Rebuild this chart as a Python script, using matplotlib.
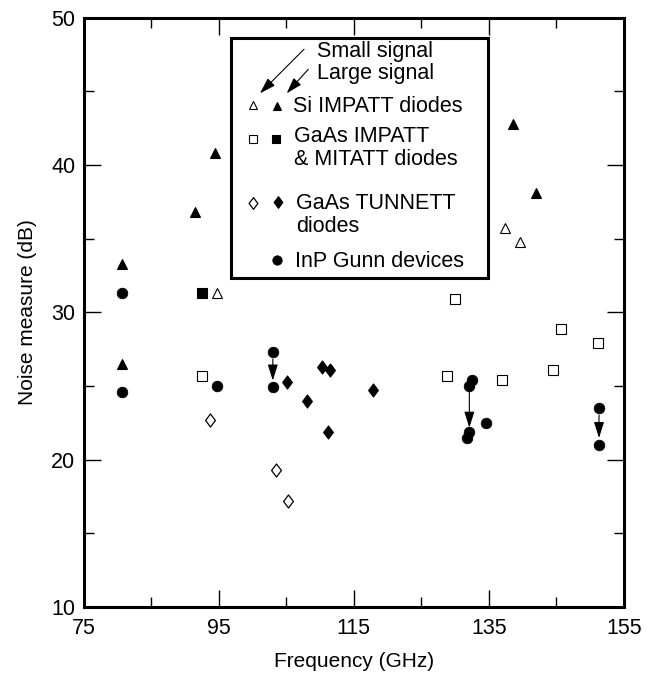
import matplotlib
matplotlib.use("Agg")
import matplotlib.pyplot as plt
from matplotlib.path import Path
from matplotlib.patches import Rectangle

plt.rcParams['font.family'] = ['Liberation Sans', 'DejaVu Sans']

# ---- data (frequency GHz, noise measure dB) ----
si_small_x = [94.7, 137.4, 139.6]
si_small_y = [31.3, 35.7, 34.8]
si_large_x = [80.7, 80.7, 91.5, 94.4, 138.6, 141.9]
si_large_y = [33.3, 26.5, 36.8, 40.8, 42.8, 38.1]
gaas_small_x = [92.5, 130.0, 128.8, 137.0, 144.5, 145.7, 151.1]
gaas_small_y = [25.7, 30.9, 25.7, 25.4, 26.1, 28.9, 27.9]
gaas_large_x = [92.5]
gaas_large_y = [31.3]
tun_small_x = [93.7, 103.4, 105.3]
tun_small_y = [22.7, 19.3, 17.2]
tun_large_x = [105.1, 108.1, 110.3, 111.4, 111.2, 117.8]
tun_large_y = [25.3, 24.0, 26.3, 26.1, 21.9, 24.7]
gunn_x = [80.6, 80.6, 94.7, 103.0, 103.0, 132.5, 132.0, 132.1, 131.7, 134.5, 151.3, 151.3]
gunn_y = [31.3, 24.6, 25.0, 27.3, 24.9, 25.4, 25.0, 21.9, 21.5, 22.5, 23.5, 21.0]
# arrows: (frequency, from dB, to dB)
arrow_x = [103.0, 132.1, 151.3]
arrow_from = [27.3, 25.2, 23.5]
arrow_to = [24.9, 21.7, 21.0]

x_ticks = [75, 95, 115, 135, 155]
y_ticks = [10, 20, 30, 40, 50]

W, H = 647, 675
fig = plt.figure(figsize=(W / 100, H / 100), dpi=100)
L, R, T, B = 83.7, 624.0, 17.7, 607.0
ax = fig.add_axes([L / W, 1 - B / H, (R - L) / W, (B - T) / H])

diamond = Path([(0, 1), (0.75, 0), (0, -1), (-0.75, 0), (0, 1)],
               [Path.MOVETO, Path.LINETO, Path.LINETO, Path.LINETO, Path.CLOSEPOLY])

ms_tri, ms_sq, ms_dia, ms_circ = 6.7, 6.5, 9.4, 7.7
ax.plot(si_small_x, si_small_y, ls='none', marker='^', ms=ms_tri, mfc='white', mec='black', mew=0.8)
ax.plot(si_large_x, si_large_y, ls='none', marker='^', ms=ms_tri, mfc='black', mec='black', mew=0.8)
ax.plot(gaas_small_x, gaas_small_y, ls='none', marker='s', ms=ms_sq, mfc='white', mec='black', mew=0.8)
ax.plot(gaas_large_x, gaas_large_y, ls='none', marker='s', ms=ms_sq, mfc='black', mec='black', mew=0.8)
ax.plot(tun_small_x, tun_small_y, ls='none', marker=diamond, ms=ms_dia, mfc='white', mec='black', mew=0.9)
ax.plot(tun_large_x, tun_large_y, ls='none', marker=diamond, ms=ms_dia, mfc='black', mec='black', mew=0.8)
ax.plot(gunn_x, gunn_y, ls='none', marker='o', ms=ms_circ, mfc='black', mec='black', mew=0.5)

for x, y0, y1 in zip(arrow_x, arrow_from, arrow_to):
    ax.annotate('', xy=(x, y1), xytext=(x, y0),
                arrowprops=dict(arrowstyle='-|>,head_length=0.7,head_width=0.22',
                                color='black', lw=0.8, shrinkA=5, shrinkB=5,
                                mutation_scale=14))

ax.set_xlim(75, 155)
ax.set_ylim(10, 50)
ax.set_xticks(x_ticks)
ax.set_xticks([85, 105, 125, 145], minor=True)
ax.set_yticks(y_ticks)
ax.set_yticks([15, 25, 35, 45], minor=True)
ax.set_xticklabels([str(v) for v in x_ticks])
ax.set_yticklabels([str(v) for v in y_ticks])
ax.tick_params(which='both', direction='in', top=True, right=True, width=1.0, colors='black')
ax.tick_params(which='major', length=12, labelsize=15.5)
ax.tick_params(which='minor', length=7)
ax.tick_params(axis='x', which='major', pad=8)
ax.tick_params(axis='y', which='major', pad=6)
for s in ax.spines.values():
    s.set_linewidth(2.2)

ax.set_xlabel('Frequency (GHz)', fontsize=15, labelpad=9)
ax.set_ylabel('Noise measure (dB)', fontsize=15, labelpad=10)

# ---- legend box drawn in axes coordinates ----
ta = ax.transAxes
ax.add_patch(Rectangle((0.2726, 0.5578), 0.7488 - 0.2726, 0.9651 - 0.5578,
                       transform=ta, fill=True, facecolor='white', edgecolor='black',
                       lw=2.2, zorder=5))
lk = dict(ls='none', transform=ta, zorder=6, mec='black')
ax.plot([0.3139], [0.8518], marker='^', ms=5.5, mfc='white', mew=0.8, **lk)
ax.plot([0.3572], [0.8501], marker='^', ms=5.5, mfc='black', mew=0.8, **lk)
ax.plot([0.3139], [0.7941], marker='s', ms=5.2, mfc='white', mew=0.8, **lk)
ax.plot([0.3554], [0.7941], marker='s', ms=5.2, mfc='black', mew=0.8, **lk)
ax.plot([0.3139], [0.6850], marker=diamond, ms=8.4, mfc='white', mew=0.9, **lk)
ax.plot([0.3591], [0.6878], marker=diamond, ms=8.4, mfc='black', mew=0.8, **lk)
ax.plot([0.3572], [0.5888], marker='o', ms=6.8, mfc='black', mew=0.5, **lk)

tk = dict(transform=ta, fontsize=15.5, ha='left', va='center', zorder=7)
ax.text(0.4312, 0.9423, 'Small signal', **tk)
ax.text(0.4312, 0.9056, 'Large signal', **tk)
ax.text(0.3879, 0.8501, 'Si IMPATT diodes', **tk)
ax.text(0.3892, 0.7981, 'GaAs IMPATT', **tk)
ax.text(0.3892, 0.7586, '& MITATT diodes', **tk)
ax.text(0.3930, 0.6850, 'GaAs TUNNETT', **tk)
ax.text(0.3930, 0.6465, 'diodes', **tk)
ax.text(0.3911, 0.5859, 'InP Gunn devices', **tk)

for (x0, y0, x1, y1) in [(0.4077, 0.9464, 0.3263, 0.8717), (0.4157, 0.9125, 0.3757, 0.8717)]:
    ax.annotate('', xy=(x1, y1), xytext=(x0, y0), xycoords=ta, textcoords=ta,
                arrowprops=dict(arrowstyle='-|>,head_length=0.7,head_width=0.22',
                                color='black', lw=0.8, shrinkA=0, shrinkB=0,
                                mutation_scale=14), zorder=7)

fig.savefig('out.png', dpi=100)
